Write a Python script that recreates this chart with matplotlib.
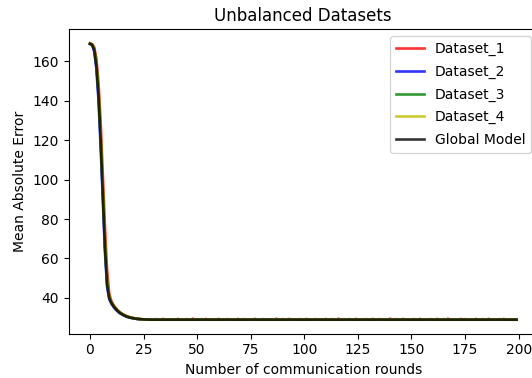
import numpy as np
import matplotlib.pyplot as plt

# Mean absolute error per communication round (first 30 rounds, then plateau)
head_global = [169.0, 168.5, 166.0, 158.0, 143.0, 120.0, 93.0, 66.0, 47.0, 40.0,
               37.5, 35.8, 34.4, 33.3, 32.4, 31.7, 31.1, 30.6, 30.2, 29.9,
               29.7, 29.5, 29.3, 29.2, 29.1, 29.05, 29.0, 28.95, 28.9, 28.9]
head_d1 = [169.2, 168.8, 167.2, 161.5, 149.0, 129.0, 103.0, 76.0, 54.0, 42.0,
           38.4, 36.4, 34.9, 33.7, 32.7, 31.9, 31.3, 30.8, 30.4, 30.0,
           29.8, 29.6, 29.4, 29.3, 29.2, 29.1, 29.0, 29.0, 28.95, 28.9]
head_d2 = [168.8, 168.2, 165.0, 156.0, 140.0, 116.0, 89.0, 63.0, 45.5, 39.3,
           37.0, 35.4, 34.0, 33.0, 32.1, 31.5, 30.9, 30.4, 30.1, 29.8,
           29.6, 29.4, 29.25, 29.15, 29.05, 29.0, 28.95, 28.9, 28.9, 28.9]
head_d3 = [169.0, 168.5, 166.2, 158.5, 144.0, 121.0, 94.0, 67.0, 47.5, 40.2,
           37.6, 35.9, 34.5, 33.4, 32.5, 31.8, 31.2, 30.7, 30.3, 30.0,
           29.7, 29.5, 29.35, 29.2, 29.1, 29.05, 29.0, 28.95, 28.9, 28.9]
head_d4 = [169.1, 168.6, 166.4, 159.0, 145.0, 122.5, 95.5, 68.5, 48.5, 40.5,
           37.8, 36.0, 34.6, 33.5, 32.6, 31.9, 31.2, 30.7, 30.3, 30.0,
           29.8, 29.5, 29.35, 29.2, 29.1, 29.05, 29.0, 28.95, 28.9, 28.9]

plateau = 28.9
n_rounds = 200

# Dataset_1 keeps small bumps on the plateau
tail_d1 = [28.9, 29.2, 28.9, 28.9, 29.3, 28.9, 28.9, 29.1, 28.9, 28.9,
           28.9, 29.3, 28.9, 28.9, 28.9, 29.2, 28.9, 28.9, 29.4, 28.9,
           28.9, 28.9, 29.2, 28.9, 29.3, 28.9, 28.9, 29.1, 28.9, 28.9,
           29.3, 28.9, 28.9, 28.9, 29.2, 28.9, 29.1, 28.9, 28.9, 29.3,
           28.9, 28.9, 29.2, 28.9, 28.9, 29.1, 28.9, 29.3, 28.9, 28.9,
           28.9, 29.2, 28.9, 28.9, 29.1, 28.9, 28.9, 29.4, 28.9, 28.9,
           29.2, 28.9, 28.9, 29.3, 28.9, 29.1, 28.9, 28.9, 29.2, 28.9,
           28.9, 29.3, 28.9, 28.9, 28.9, 29.2, 28.9, 29.1, 28.9, 28.9,
           29.3, 28.9, 28.9, 29.2, 28.9, 28.9, 29.4, 28.9, 28.9, 29.1,
           28.9, 29.2, 28.9, 28.9, 29.3, 28.9, 28.9, 29.1, 28.9, 29.2,
           28.9, 28.9, 29.3, 28.9, 28.9, 29.2, 28.9, 29.1, 28.9, 28.9,
           29.4, 28.9, 28.9, 29.2, 28.9, 28.9, 29.3, 28.9, 29.1, 28.9,
           28.9, 29.2, 28.9, 28.9, 29.3, 28.9, 28.9, 29.1, 28.9, 29.2,
           28.9, 28.9, 29.3, 28.9, 28.9, 29.2, 28.9, 29.4, 28.9, 28.9,
           29.1, 28.9, 28.9, 29.3, 28.9, 29.2, 28.9, 28.9, 29.1, 28.9,
           29.3, 28.9, 28.9, 29.2, 28.9, 28.9, 29.3, 28.9, 29.1, 28.9,
           28.9, 29.2, 28.9, 29.3, 28.9, 28.9, 29.1, 28.9, 28.9, 28.9]

labels = ['Dataset_1', 'Dataset_2', 'Dataset_3', 'Dataset_4', 'Global Model']
colors = ['r', 'b', 'g', 'y', 'k']

tail_len = n_rounds - len(head_global)
series = [
    head_d1 + tail_d1,
    head_d2 + [plateau] * tail_len,
    head_d3 + [plateau] * tail_len,
    head_d4 + [plateau] * tail_len,
    head_global + [plateau] * tail_len,
]

rounds = np.arange(n_rounds)

fig = plt.figure(figsize=(5.32, 3.78), dpi=100)
ax = fig.add_axes([0.129, 0.1177, 0.882, 0.8043])

for values, color, label in zip(series, colors, labels):
    ax.plot(rounds, values, color=color, alpha=0.8, linewidth=1.9, label=label)

ax.set_title('Unbalanced Datasets')
ax.set_xlabel('Number of communication rounds')
ax.set_ylabel('Mean Absolute Error')
ax.set_xticks(np.arange(0, 201, 25))
ax.legend(loc='upper right', labelspacing=0.62)

fig.savefig('out.png', dpi=100)
